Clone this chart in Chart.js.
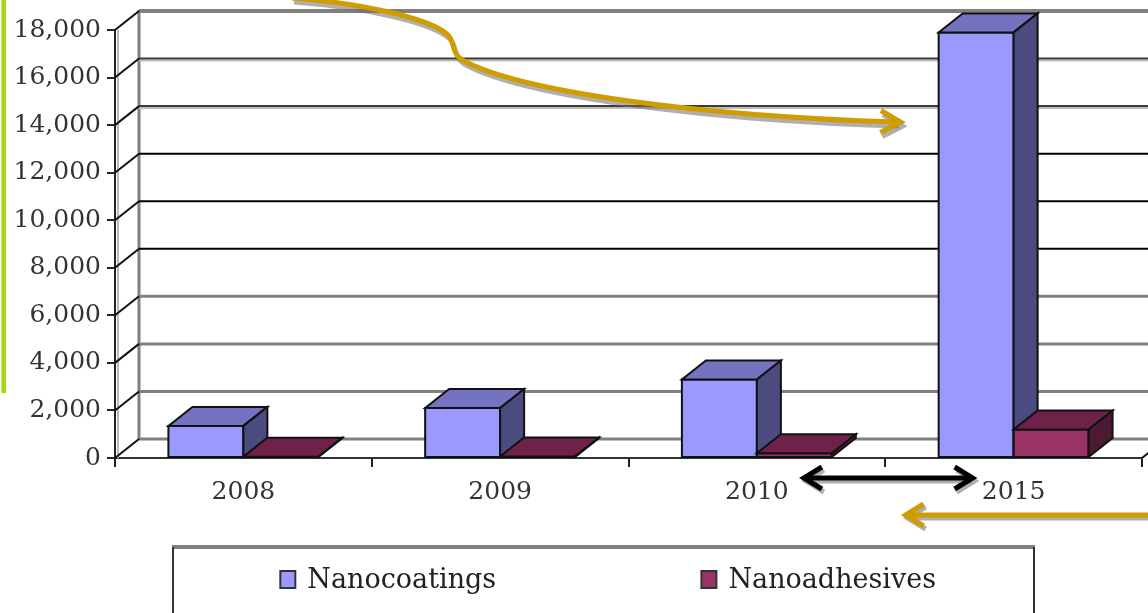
<!DOCTYPE html>
<html>
<head>
<meta charset="utf-8">
<script src="https://cdn.jsdelivr.net/npm/chart.js@4/dist/chart.umd.min.js"></script>
<style>
  html, body { margin: 0; padding: 0; background: #ffffff; }
  #wrap { width: 1148px; height: 613px; position: relative; overflow: hidden; }
  canvas { display: block; }
</style>
</head>
<body>
<div id="wrap"><canvas id="chart" width="1148" height="613"></canvas></div>
<script>
// Market size by year (values on the value axis)
const years = ['2008', '2009', '2010', '2015'];
const nanocoatings = [1350, 2100, 3300, 17900];
const nanoadhesives = [50, 60, 200, 1200];
const valueTicks = [0, 2000, 4000, 6000, 8000, 10000, 12000, 14000, 16000, 18000];

// 3-D depth of the bars and walls (px)
const DX = 24, DY = -19;
const FONT = "'DejaVu Serif', 'Liberation Serif', serif";

const faces = [
  { front: '#9999ff', top: '#7373c2', side: '#4b4b80' },
  { front: '#993366', top: '#6e2249', side: '#4d1a33' }
];

// line style of each back-wall gridline
function gridStyle(v) {
  if (v === 18000) return { color: '#808080', width: 4 };
  if (v === 16000 || v === 14000) return { color: '#3a3a3a', width: 2, under: '#bdbdbd' };
  if (v >= 8000) return { color: '#000000', width: 2 };
  return { color: '#808080', width: 3 };
}

function line(ctx, x1, y1, x2, y2, color, width) {
  ctx.beginPath();
  ctx.moveTo(x1, y1);
  ctx.lineTo(x2, y2);
  ctx.strokeStyle = color;
  ctx.lineWidth = width;
  ctx.stroke();
}

function poly(ctx, pts, fill) {
  ctx.beginPath();
  ctx.moveTo(pts[0][0], pts[0][1]);
  for (let i = 1; i < pts.length; i++) ctx.lineTo(pts[i][0], pts[i][1]);
  ctx.closePath();
  ctx.fillStyle = fill;
  ctx.fill();
  ctx.strokeStyle = '#111111';
  ctx.lineWidth = 2;
  ctx.lineJoin = 'miter';
  ctx.stroke();
}

// Walls, gridlines and box-shaped bars
const box3d = {
  id: 'box3d',
  beforeDatasetsDraw(chart) {
    const { ctx, chartArea: { left, right, bottom }, scales: { y } } = chart;
    ctx.save();

    // shaded inner edge of the side wall
    line(ctx, left + 3, y.getPixelForValue(18000), left + 3, bottom, '#b8b8b8', 2);
    // back wall left edge
    line(ctx, left + DX, y.getPixelForValue(18000) + DY - 1, left + DX, bottom + DY, '#808080', 3);

    valueTicks.forEach(v => {
      const py = y.getPixelForValue(v);
      const st = gridStyle(v);
      if (st.under) line(ctx, left + DX, py + DY + 2, chart.width, py + DY + 2, st.under, 2);
      line(ctx, left + DX, py + DY, chart.width, py + DY, st.color, st.width);
      line(ctx, left, py, left + DX, py + DY, '#111111', 2);
    });
    // right end of the floor
    line(ctx, right, bottom, right + DX, bottom + DY, '#111111', 2);

    // bars, left to right so nearer faces overlap correctly
    const bars = [];
    chart.data.datasets.forEach((ds, di) => {
      chart.getDatasetMeta(di).data.forEach(el => {
        const p = el.getProps(['x', 'y', 'base', 'width'], true);
        bars.push({ l: p.x - p.width / 2, r: p.x + p.width / 2, t: p.y, b: p.base, f: faces[di] });
      });
    });
    bars.sort((a, b) => a.l - b.l);
    bars.forEach(bar => {
      const { l, r, t, b, f } = bar;
      poly(ctx, [[l, t], [r, t], [r, b], [l, b]], f.front);
      poly(ctx, [[l, t], [r, t], [r + DX, t + DY], [l + DX, t + DY]], f.top);
      poly(ctx, [[r, t], [r + DX, t + DY], [r + DX, b + DY], [r, b]], f.side);
    });

    ctx.restore();
    return false;
  }
};

function arrowHead(ctx, tipX, tipY, dirX, dirY, len, spread) {
  const nx = -dirY, ny = dirX;
  ctx.beginPath();
  ctx.moveTo(tipX - dirX * len + nx * spread, tipY - dirY * len + ny * spread);
  ctx.lineTo(tipX, tipY);
  ctx.lineTo(tipX - dirX * len - nx * spread, tipY - dirY * len - ny * spread);
  ctx.stroke();
}

// Legend box and callout arrows
const extras = {
  id: 'extras',
  afterDraw(chart) {
    const { ctx, scales: { x, y } } = chart;
    ctx.save();
    ctx.lineCap = 'butt';
    ctx.lineJoin = 'miter';

    // green rule on the left
    ctx.fillStyle = '#a3d41c';
    ctx.fillRect(1, 0, 5, 393);
    ctx.fillStyle = '#c8ec6a';
    ctx.fillRect(1, 0, 1, 393);

    // legend box
    const bx1 = 173, bx2 = 1034, by = 547;
    line(ctx, bx1 - 1, by, bx2 + 1, by, '#808080', 4);
    line(ctx, bx1, by, bx1, chart.height + 2, '#333333', 2);
    line(ctx, bx2, by, bx2, chart.height + 2, '#333333', 2);
    const ds = chart.data.datasets;
    const colW = (bx2 - bx1) / ds.length;
    ctx.font = '27px ' + FONT;
    ctx.textBaseline = 'alphabetic';
    ds.forEach((d, i) => {
      const tw = ctx.measureText(d.label).width;
      const itemW = 15 + 12 + tw;
      const sx = bx1 + colW * i + (colW - itemW) / 2;
      ctx.fillStyle = faces[i].front;
      ctx.fillRect(sx, 571, 15, 17);
      ctx.strokeStyle = '#333333';
      ctx.lineWidth = 2;
      ctx.strokeRect(sx, 571, 15, 17);
      ctx.fillStyle = '#222222';
      ctx.fillText(d.label, sx + 27, 588);
    });

    // curved callout arrow pointing at the 2015 bar
    const tipX = x.getPixelForValue(3) - 113;
    const tipY = y.getPixelForValue(14000) - 3;
    const curve = (ox, oy) => {
      ctx.beginPath();
      ctx.moveTo(292 + ox, -2 + oy);
      ctx.bezierCurveTo(360 + ox, 3 + oy, 430 + ox, 18 + oy, 448 + ox, 35 + oy);
      ctx.bezierCurveTo(455 + ox, 42 + oy, 451 + ox, 52 + oy, 462 + ox, 60 + oy);
      ctx.bezierCurveTo(520 + ox, 92 + oy, 700 + ox, 116 + oy, tipX - 4 + ox, tipY + oy);
      ctx.stroke();
      arrowHead(ctx, tipX + ox, tipY + oy, 1, 0.03, 20, 11);
    };
    ctx.lineWidth = 5;
    ctx.strokeStyle = 'rgba(110,110,110,0.55)';
    curve(2, 4);
    ctx.strokeStyle = '#cf9d00';
    curve(0, 0);

    // double arrow between the 2010 and 2015 labels
    const ay = 478, ax1 = x.getPixelForValue(2) + 47, ax2 = x.getPixelForValue(3) - 41;
    const dbl = (ox, oy) => {
      ctx.beginPath();
      ctx.moveTo(ax1 + 3 + ox, ay + oy);
      ctx.lineTo(ax2 - 3 + ox, ay + oy);
      ctx.stroke();
      arrowHead(ctx, ax1 + ox, ay + oy, -1, 0, 18, 11);
      arrowHead(ctx, ax2 + ox, ay + oy, 1, 0, 18, 11);
    };
    ctx.lineWidth = 5;
    ctx.strokeStyle = 'rgba(110,110,110,0.55)';
    dbl(2, 3);
    ctx.strokeStyle = '#000000';
    dbl(0, 0);

    // straight arrow pointing back at the 2015 label
    const gy = 515, gx = x.getPixelForValue(3) - 108;
    const straight = (ox, oy) => {
      ctx.beginPath();
      ctx.moveTo(chart.width + 5, gy + oy);
      ctx.lineTo(gx + 3 + ox, gy + oy);
      ctx.stroke();
      arrowHead(ctx, gx + ox, gy + oy, -1, 0, 18, 11);
    };
    ctx.lineWidth = 5;
    ctx.strokeStyle = 'rgba(110,110,110,0.55)';
    straight(2, 3);
    ctx.strokeStyle = '#cf9d00';
    straight(0, 0);

    ctx.restore();
  }
};

Chart.defaults.font.family = FONT;

new Chart(document.getElementById('chart'), {
  type: 'bar',
  data: {
    labels: years,
    datasets: [
      { label: 'Nanocoatings', data: nanocoatings, backgroundColor: faces[0].front },
      { label: 'Nanoadhesives', data: nanoadhesives, backgroundColor: faces[1].front }
    ]
  },
  options: {
    responsive: false,
    animation: false,
    devicePixelRatio: 1,
    categoryPercentage: 0.584,
    barPercentage: 1.0,
    layout: { padding: { top: 30, right: 6, left: 0, bottom: 0 } },
    plugins: { legend: { display: false }, tooltip: { enabled: false } },
    scales: {
      x: {
        offset: true,
        grid: { offset: true, drawOnChartArea: false, drawTicks: true, tickLength: 9, color: '#222222', lineWidth: 2 },
        border: { display: true, color: '#333333', width: 2 },
        ticks: { color: '#333333', font: { size: 25 }, padding: 10, maxRotation: 0 },
        afterFit(scale) { scale.height = 155; }
      },
      y: {
        min: 0,
        max: 18000,
        afterBuildTicks(scale) { scale.ticks = valueTicks.map(v => ({ value: v })); },
        grid: { drawOnChartArea: false, drawTicks: true, tickLength: 8, color: '#222222', lineWidth: 2 },
        border: { display: true, color: '#222222', width: 2 },
        ticks: {
          color: '#333333',
          font: { size: 25 },
          padding: 6,
          callback: v => v.toLocaleString('en-US')
        },
        afterFit(scale) { scale.width = 115; }
      }
    }
  },
  plugins: [box3d, extras]
});
</script>
</body>
</html>
